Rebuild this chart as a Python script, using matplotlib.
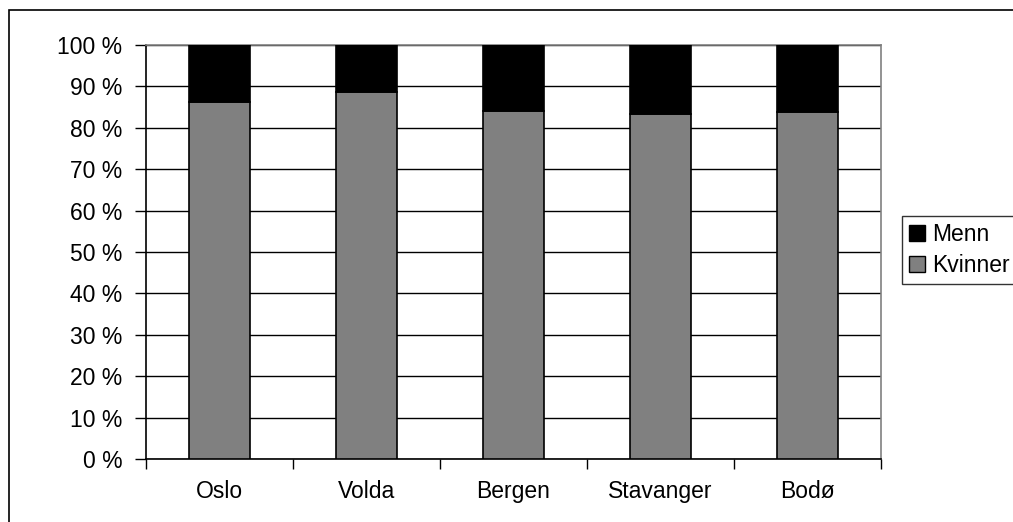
import matplotlib
matplotlib.use("Agg")
import matplotlib.pyplot as plt
from matplotlib.patches import Patch, Rectangle

plt.rcParams['font.family'] = ['Liberation Sans', 'DejaVu Sans']

# data (share in %)
steder = ["Oslo", "Volda", "Bergen", "Stavanger", "Bodø"]
kvinner = [86.2, 88.6, 84.1, 83.4, 83.8]
menn = [100 - k for k in kvinner]
y_ticks = [0, 10, 20, 30, 40, 50, 60, 70, 80, 90, 100]

W, H = 1013, 522
FS = 16.5
fig = plt.figure(figsize=(W / 100, H / 100), dpi=100)
ax = fig.add_axes([146 / W, 1 - 459 / H, (881 - 146) / W, (459 - 45) / H])

# ytre ramme rundt hele diagrammet
fig.patches.append(Rectangle((9 / W, -0.1), 1.2, 1 - 10 / H + 0.1, transform=fig.transFigure,
                             fill=False, edgecolor='black', linewidth=1.2))

x = list(range(len(steder)))
ax.bar(x, kvinner, width=0.41, color='#808080', edgecolor='black', linewidth=1.2, zorder=3)
ax.bar(x, menn, width=0.41, bottom=kvinner, color='black', edgecolor='black', linewidth=1.2, zorder=3)

ax.set_xlim(-0.5, len(steder) - 0.5)
ax.set_ylim(0, 100)
ax.set_yticks(y_ticks)
ax.set_yticklabels([f"{v} %" for v in y_ticks])
ax.set_xticks(x)
ax.set_xticklabels(steder)
ax.set_xticks([i - 0.5 for i in range(len(steder) + 1)], minor=True)
ax.tick_params(axis='x', which='major', length=0, pad=15, labelsize=FS)
ax.tick_params(axis='x', which='minor', length=7, width=1, direction='out', color='black')
ax.tick_params(axis='y', length=8, width=1, direction='out', pad=9, labelsize=FS)

ax.yaxis.grid(True, color='black', linewidth=1, zorder=0)
ax.set_axisbelow(True)
for side in ['top', 'right']:
    ax.spines[side].set_color('#808080')
    ax.spines[side].set_linewidth(1.2)
for side in ['left', 'bottom']:
    ax.spines[side].set_color('black')
    ax.spines[side].set_linewidth(1.2)

handles = [Patch(facecolor='black', edgecolor='black', label='Menn'),
           Patch(facecolor='#808080', edgecolor='black', label='Kvinner')]
leg = fig.legend(handles=handles, loc='upper left', bbox_to_anchor=(902 / W, 1 - 216 / H),
                 fontsize=FS, frameon=True, fancybox=False, handlelength=0.7, handleheight=0.7,
                 handletextpad=0.3, borderpad=0.3, labelspacing=0.35, borderaxespad=0)
leg.get_frame().set_edgecolor('black')
leg.get_frame().set_linewidth(1)

fig.savefig("out.png", dpi=100)
